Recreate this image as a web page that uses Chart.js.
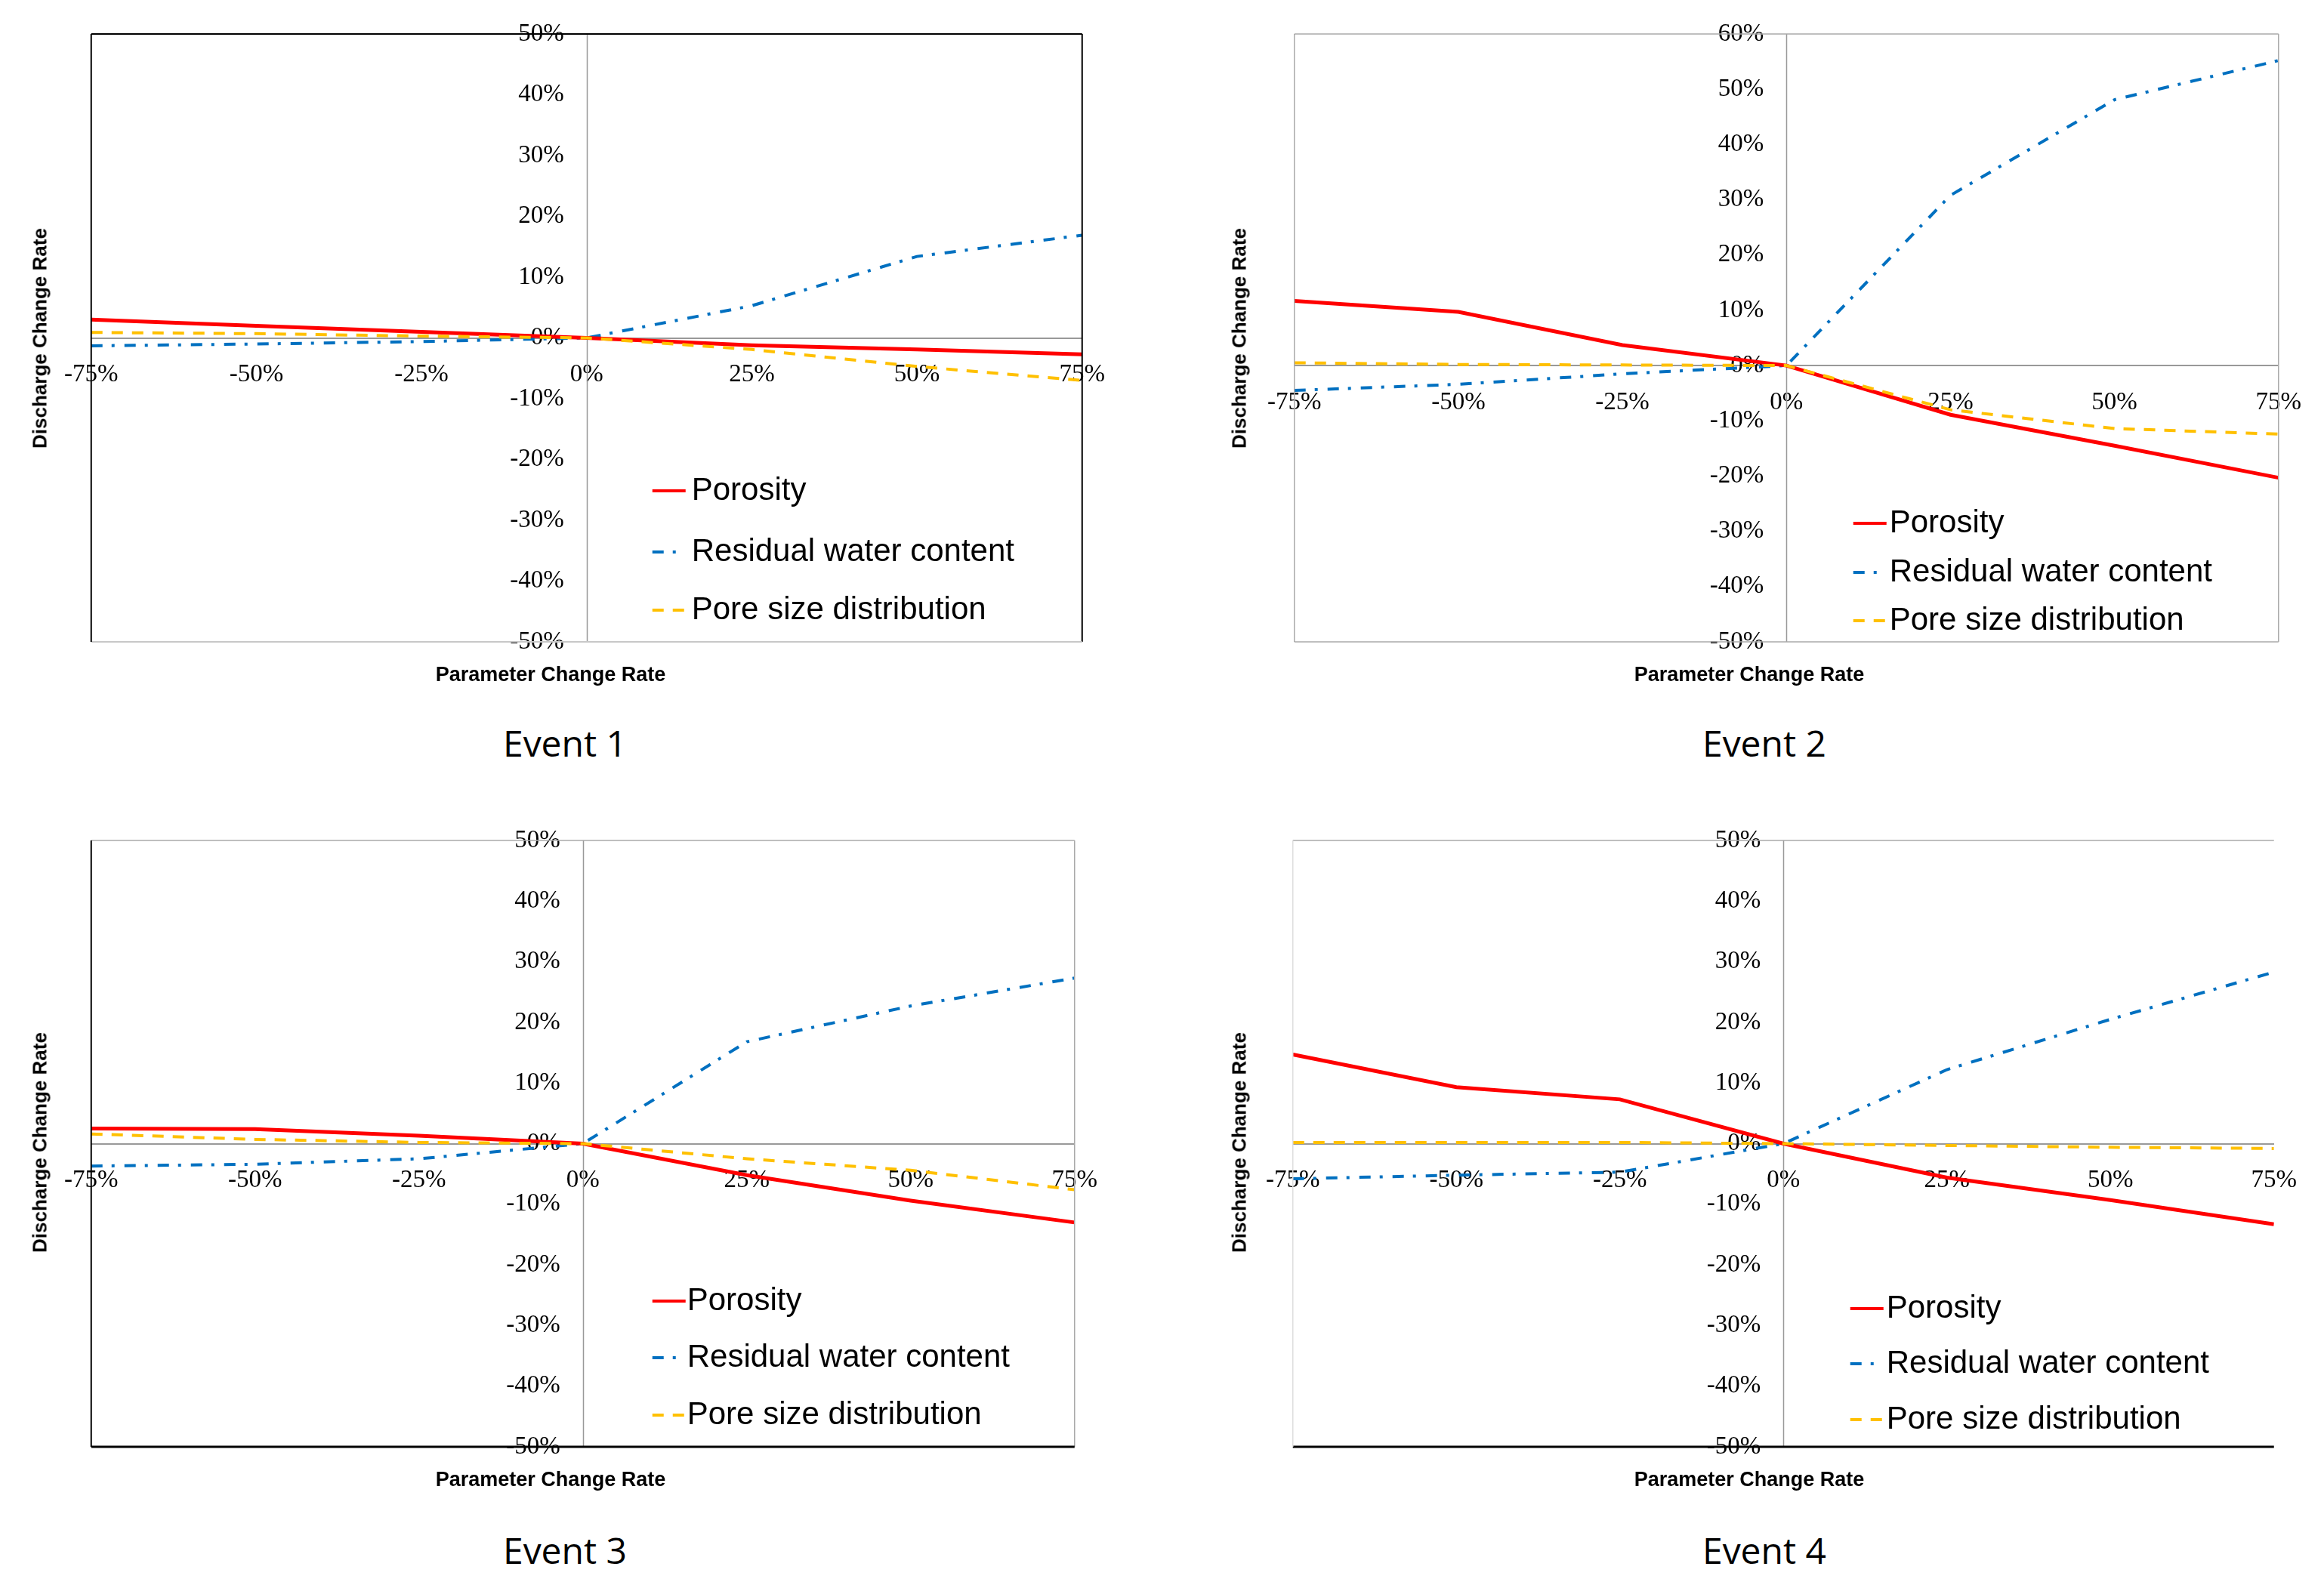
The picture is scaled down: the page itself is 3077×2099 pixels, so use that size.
<!DOCTYPE html>
<html>
<head>
<meta charset="utf-8">
<script src="https://cdn.jsdelivr.net/npm/chart.js@4.4.1/dist/chart.umd.min.js"></script>
<style>
  html, body { margin: 0; padding: 0; background: #fff; }
  body { position: relative; width: 3077px; height: 2099px; overflow: hidden; }
  canvas { position: absolute; }
  .ytitle, .xtitle, .event { position: absolute; white-space: nowrap; color: #000; }
  .ytitle { font: bold 26px "Liberation Sans", Arial, sans-serif; transform: translate(-50%, -50%) rotate(-90deg); }
  .xtitle { font: bold 27px "Liberation Sans", Arial, sans-serif; transform: translate(-50%, -50%); }
  .event { font: 48px "Open Sans", sans-serif; transform: translate(-50%, -50%); }
</style>
</head>
<body>
<script>
// parameter change rate (%) on the x axis
const paramRates = [-75, -50, -25, 0, 25, 50, 75];
const xTicks = [-75, -50, -25, 0, 25, 50, 75];
const yTicks = [-50, -40, -30, -20, -10, 0, 10, 20, 30, 40, 50];
const yTicksEvent2 = [-50, -40, -30, -20, -10, 0, 10, 20, 30, 40, 50, 60];

const seriesNames = ['Porosity', 'Residual water content', 'Pore size distribution'];
const eventNames = ['Event 1', 'Event 2', 'Event 3', 'Event 4'];

// discharge change rate (%)
const event1Porosity = [3.0, 2.0, 1.0, 0, -1.2, -1.9, -2.7];
const event1Residual = [-1.3, -1.0, -0.6, 0, 5.3, 13.4, 16.9];
const event1Pore = [0.9, 0.7, 0.3, 0, -1.9, -4.7, -7.0];

const event2Porosity = [11.7, 9.7, 3.7, 0, -8.9, -14.5, -20.3];
const event2Residual = [-4.5, -3.4, -1.5, 0, 30.8, 48.1, 55.2];
const event2Pore = [0.5, 0.2, 0.1, 0, -8.0, -11.4, -12.4];

const event3Porosity = [2.5, 2.4, 1.3, 0, -5.2, -9.4, -13.0];
const event3Residual = [-3.7, -3.4, -2.5, 0, 16.8, 22.7, 27.3];
const event3Pore = [1.6, 0.7, 0.2, 0, -2.5, -4.4, -7.6];

const event4Porosity = [14.7, 9.3, 7.3, 0, -5.6, -9.3, -13.3];
const event4Residual = [-5.8, -5.2, -4.7, 0, 12.2, 20.5, 28.3];
const event4Pore = [0.2, 0.2, 0.2, 0, -0.3, -0.6, -0.8];

const colors = { porosity: '#FF0000', residual: '#0070C0', pore: '#FFC000' };

// plot area of each panel in page pixels + decorations
const panels = [
  { L: 121, R: 1433, T: 45, B: 850, yMax: 50, yTicks: yTicks,
    data: [event1Porosity, event1Residual, event1Pore],
    yTitle: [53, 448], xTitle: [729, 893], event: [748, 983],
    legend: { lineX: 743, textX: 795, rows: [605, 686, 763] },
    frame: [['#000', 2], ['#000', 2], ['#c8c8c8', 2], ['#000', 2]] },
  { L: 1714, R: 3017, T: 45, B: 850, yMax: 60, yTicks: yTicksEvent2,
    data: [event2Porosity, event2Residual, event2Pore],
    yTitle: [1641, 448], xTitle: [2316, 893], event: [2336, 983],
    legend: { lineX: 740, textX: 788, rows: [648, 713, 777] },
    frame: [['#aaa', 1.5], ['#aaa', 1.5], ['#aaa', 1.5], ['#aaa', 1.5]] },
  { L: 121, R: 1423, T: 1113, B: 1916, yMax: 50, yTicks: yTicks,
    data: [event3Porosity, event3Residual, event3Pore],
    yTitle: [53, 1513], xTitle: [729, 1959], event: [748, 2052],
    legend: { lineX: 743, textX: 789, rows: [610, 685, 761] },
    frame: [['#aaa', 1.5], ['#aaa', 1.5], ['#000', 3], ['#000', 2]] },
  { L: 1712, R: 3011, T: 1113, B: 1916, yMax: 50, yTicks: yTicks,
    data: [event4Porosity, event4Residual, event4Pore],
    yTitle: [1641, 1513], xTitle: [2316, 1959], event: [2336, 2052],
    legend: { lineX: 738, textX: 786, rows: [620, 693, 767] },
    frame: [['#aaa', 1.5], null, ['#000', 3], ['#ddd', 1.5]] }
];

const PAD = { l: 50, r: 50, t: 30, b: 30 };
const Y_LABEL_GAP = 30; // px between y tick labels and the vertical zero line

// vertical zero line under the data, frame around the plot area on top
const framePlugin = {
  id: 'frame',
  beforeDatasetsDraw(chart) {
    const a = chart.chartArea;
    const ctx = chart.ctx;
    const x0 = Math.round(chart.scales.x.getPixelForValue(0)) + 0.5;
    ctx.save();
    ctx.strokeStyle = '#999';
    ctx.lineWidth = 1.5;
    ctx.beginPath();
    ctx.moveTo(x0, a.top);
    ctx.lineTo(x0, a.bottom);
    ctx.stroke();
    ctx.restore();
  },
  afterDatasetsDraw(chart, args, opts) {
    const a = chart.chartArea;
    const ctx = chart.ctx;
    const sides = [
      [a.left, a.top, a.right, a.top],
      [a.right, a.top, a.right, a.bottom],
      [a.left, a.bottom, a.right, a.bottom],
      [a.left, a.top, a.left, a.bottom]
    ];
    ctx.save();
    opts.sides.forEach(function (s, i) {
      if (!s) return;
      ctx.strokeStyle = s[0];
      ctx.lineWidth = s[1];
      ctx.beginPath();
      ctx.moveTo(sides[i][0], sides[i][1]);
      ctx.lineTo(sides[i][2], sides[i][3]);
      ctx.stroke();
    });
    ctx.restore();
  }
};

// legend drawn inside the plot area, lower right
const insideLegend = {
  id: 'insideLegend',
  afterDraw(chart, args, opts) {
    const a = chart.chartArea;
    const ctx = chart.ctx;
    ctx.save();
    ctx.font = '42px "Liberation Sans", Arial, sans-serif';
    ctx.textBaseline = 'middle';
    chart.data.datasets.forEach(function (ds, i) {
      const y = a.top + opts.rows[i];
      const x0 = a.left + opts.lineX;
      ctx.strokeStyle = ds.borderColor;
      ctx.lineWidth = 4;
      ctx.setLineDash(ds.borderDash || []);
      ctx.beginPath();
      ctx.moveTo(x0, y);
      ctx.lineTo(x0 + 44, y);
      ctx.stroke();
      ctx.setLineDash([]);
      ctx.fillStyle = '#000';
      ctx.fillText(ds.label, a.left + opts.textX, y);
    });
    ctx.restore();
  }
};

function addText(cls, text, pos) {
  const d = document.createElement('div');
  d.className = cls;
  d.textContent = text;
  d.style.left = pos[0] + 'px';
  d.style.top = pos[1] + 'px';
  document.body.appendChild(d);
}

function toPoints(values) {
  return values.map((v, i) => ({ x: paramRates[i], y: v }));
}

const tickFont = { family: '"Liberation Serif", "Times New Roman", serif', size: 33 };

function buildConfig(p) {
  // y labels hang off an axis placed a little left of x = 0
  const yAxisAt = -Y_LABEL_GAP * 150 / (p.R - p.L);
  return {
    type: 'line',
    data: {
      datasets: [
        { label: seriesNames[0], data: toPoints(p.data[0]), borderColor: colors.porosity,
          borderWidth: 5, pointRadius: 0, order: 1 },
        { label: seriesNames[1], data: toPoints(p.data[1]), borderColor: colors.residual,
          borderWidth: 4, borderDash: [15, 12, 4, 13], pointRadius: 0, order: 2 },
        { label: seriesNames[2], data: toPoints(p.data[2]), borderColor: colors.pore,
          borderWidth: 4, borderDash: [15, 12], pointRadius: 0, order: 0 }
      ]
    },
    options: {
      responsive: false,
      maintainAspectRatio: false,
      animation: false,
      devicePixelRatio: 1,
      layout: { padding: { left: PAD.l, right: PAD.r, top: PAD.t, bottom: PAD.b } },
      plugins: {
        legend: { display: false },
        tooltip: { enabled: false },
        frame: { sides: p.frame },
        insideLegend: p.legend
      },
      scales: {
        x: {
          type: 'linear',
          min: -75,
          max: 75,
          position: { y: 0 },
          afterBuildTicks: axis => { axis.ticks = xTicks.map(v => ({ value: v })); },
          grid: { display: false, drawTicks: false },
          border: { display: true, color: '#999', width: 2 },
          ticks: { autoSkip: false, maxRotation: 0, padding: 29, color: '#000', font: tickFont,
            callback: v => v + '%' }
        },
        y: {
          type: 'linear',
          min: -50,
          max: p.yMax,
          position: { x: yAxisAt },
          afterBuildTicks: axis => { axis.ticks = p.yTicks.map(v => ({ value: v })); },
          grid: { display: false, drawTicks: false },
          border: { display: false },
          ticks: { autoSkip: false, color: '#000', font: tickFont,
            callback: v => v + '%' }
        }
      }
    },
    plugins: [framePlugin, insideLegend]
  };
}

panels.forEach(function (p, idx) {
  const canvas = document.createElement('canvas');
  document.body.appendChild(canvas);
  let w = (p.R - p.L) + PAD.l + PAD.r;
  let h = (p.B - p.T) + PAD.t + PAD.b;
  let chart = null;

  // size the canvas until Chart.js puts the plot area exactly on L/T/R/B
  for (let k = 0; k < 4; k++) {
    canvas.width = w;
    canvas.height = h;
    canvas.style.width = w + 'px';
    canvas.style.height = h + 'px';
    chart = new Chart(canvas.getContext('2d'), buildConfig(p));
    const a = chart.chartArea;
    canvas.style.left = (p.L - a.left) + 'px';
    canvas.style.top = (p.T - a.top) + 'px';
    const dw = (p.R - p.L) - (a.right - a.left);
    const dh = (p.B - p.T) - (a.bottom - a.top);
    if (Math.abs(dw) < 0.5 && Math.abs(dh) < 0.5) break;
    chart.destroy();
    w = Math.round(w + dw);
    h = Math.round(h + dh);
  }

  addText('ytitle', 'Discharge Change Rate', p.yTitle);
  addText('xtitle', 'Parameter Change Rate', p.xTitle);
  addText('event', eventNames[idx], p.event);
});
</script>
</body>
</html>
